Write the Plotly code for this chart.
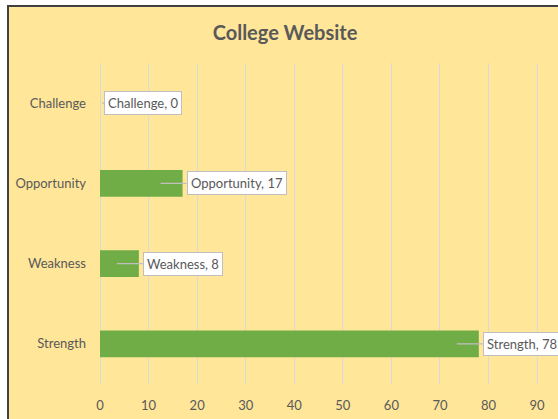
import plotly.graph_objects as go

categories = ["Strength", "Weakness", "Opportunity", "Challenge"]
values = [78, 8, 17, 0]
x_ticks = [0, 10, 20, 30, 40, 50, 60, 70, 80, 90]

TXT = "#595959"
FONT = "Lato"

W, H = 558, 419
ML, MR, MT, MB = 100, 0, 63, 35
plot_w = W - ML - MR
x_max = 94.3
px_per_unit = plot_w / x_max

fig = go.Figure(go.Bar(
    y=categories, x=values, orientation="h",
    marker=dict(color="#70AD47", line=dict(width=0)),
    hoverinfo="skip",
))

annotations = []
for cat, val in zip(categories, values):
    bar_px = val * px_per_unit
    tip_inset = min(22, max(bar_px - 2, -2))
    annotations.append(dict(
        x=val, y=cat, xref="x", yref="y",
        text=f"{cat}, {val}",
        showarrow=True, arrowhead=0, arrowwidth=1.3, arrowcolor="#BFBFBF",
        ax=4 + tip_inset, ay=0, xanchor="left", yanchor="middle",
        xshift=-tip_inset,
        bgcolor="white", bordercolor="#BFBFBF", borderwidth=1, borderpad=3,
        font=dict(family=FONT, size=13, color=TXT),
    ))

fig.update_layout(
    width=W, height=H,
    margin=dict(l=ML, r=MR, t=MT, b=MB, pad=0),
    paper_bgcolor="white",
    plot_bgcolor="rgba(0,0,0,0)",
    showlegend=False,
    bargap=0.665,
    title=dict(text="<b>College Website</b>", x=285 / W, xanchor="center",
               y=1 - 33 / H, yanchor="middle",
               font=dict(family=FONT, size=20, color=TXT)),
    xaxis=dict(range=[0, x_max], tickvals=x_ticks, showgrid=True,
               gridcolor="#D9D9D9", gridwidth=1, zeroline=True,
               zerolinecolor="#D9D9D9", zerolinewidth=1, showline=False,
               ticks="", ticklabelstandoff=12,
               tickfont=dict(family=FONT, size=13, color=TXT), fixedrange=True),
    yaxis=dict(showgrid=False, zeroline=False, showline=False, ticks="",
               ticklabelstandoff=13,
               tickfont=dict(family=FONT, size=13, color=TXT), fixedrange=True),
    annotations=annotations,
    shapes=[dict(
        type="rect", layer="below",
        xref="paper", xsizemode="pixel", xanchor=0, x0=-92, x1=600,
        yref="paper", ysizemode="pixel", yanchor=1, y0=57, y1=-500,
        fillcolor="#FFE699", line=dict(color="#404040", width=2),
    )],
)

fig.write_html("out.html", config={"displayModeBar": False},
               post_script="document.body.style.margin='0';document.body.style.overflow='hidden';")
